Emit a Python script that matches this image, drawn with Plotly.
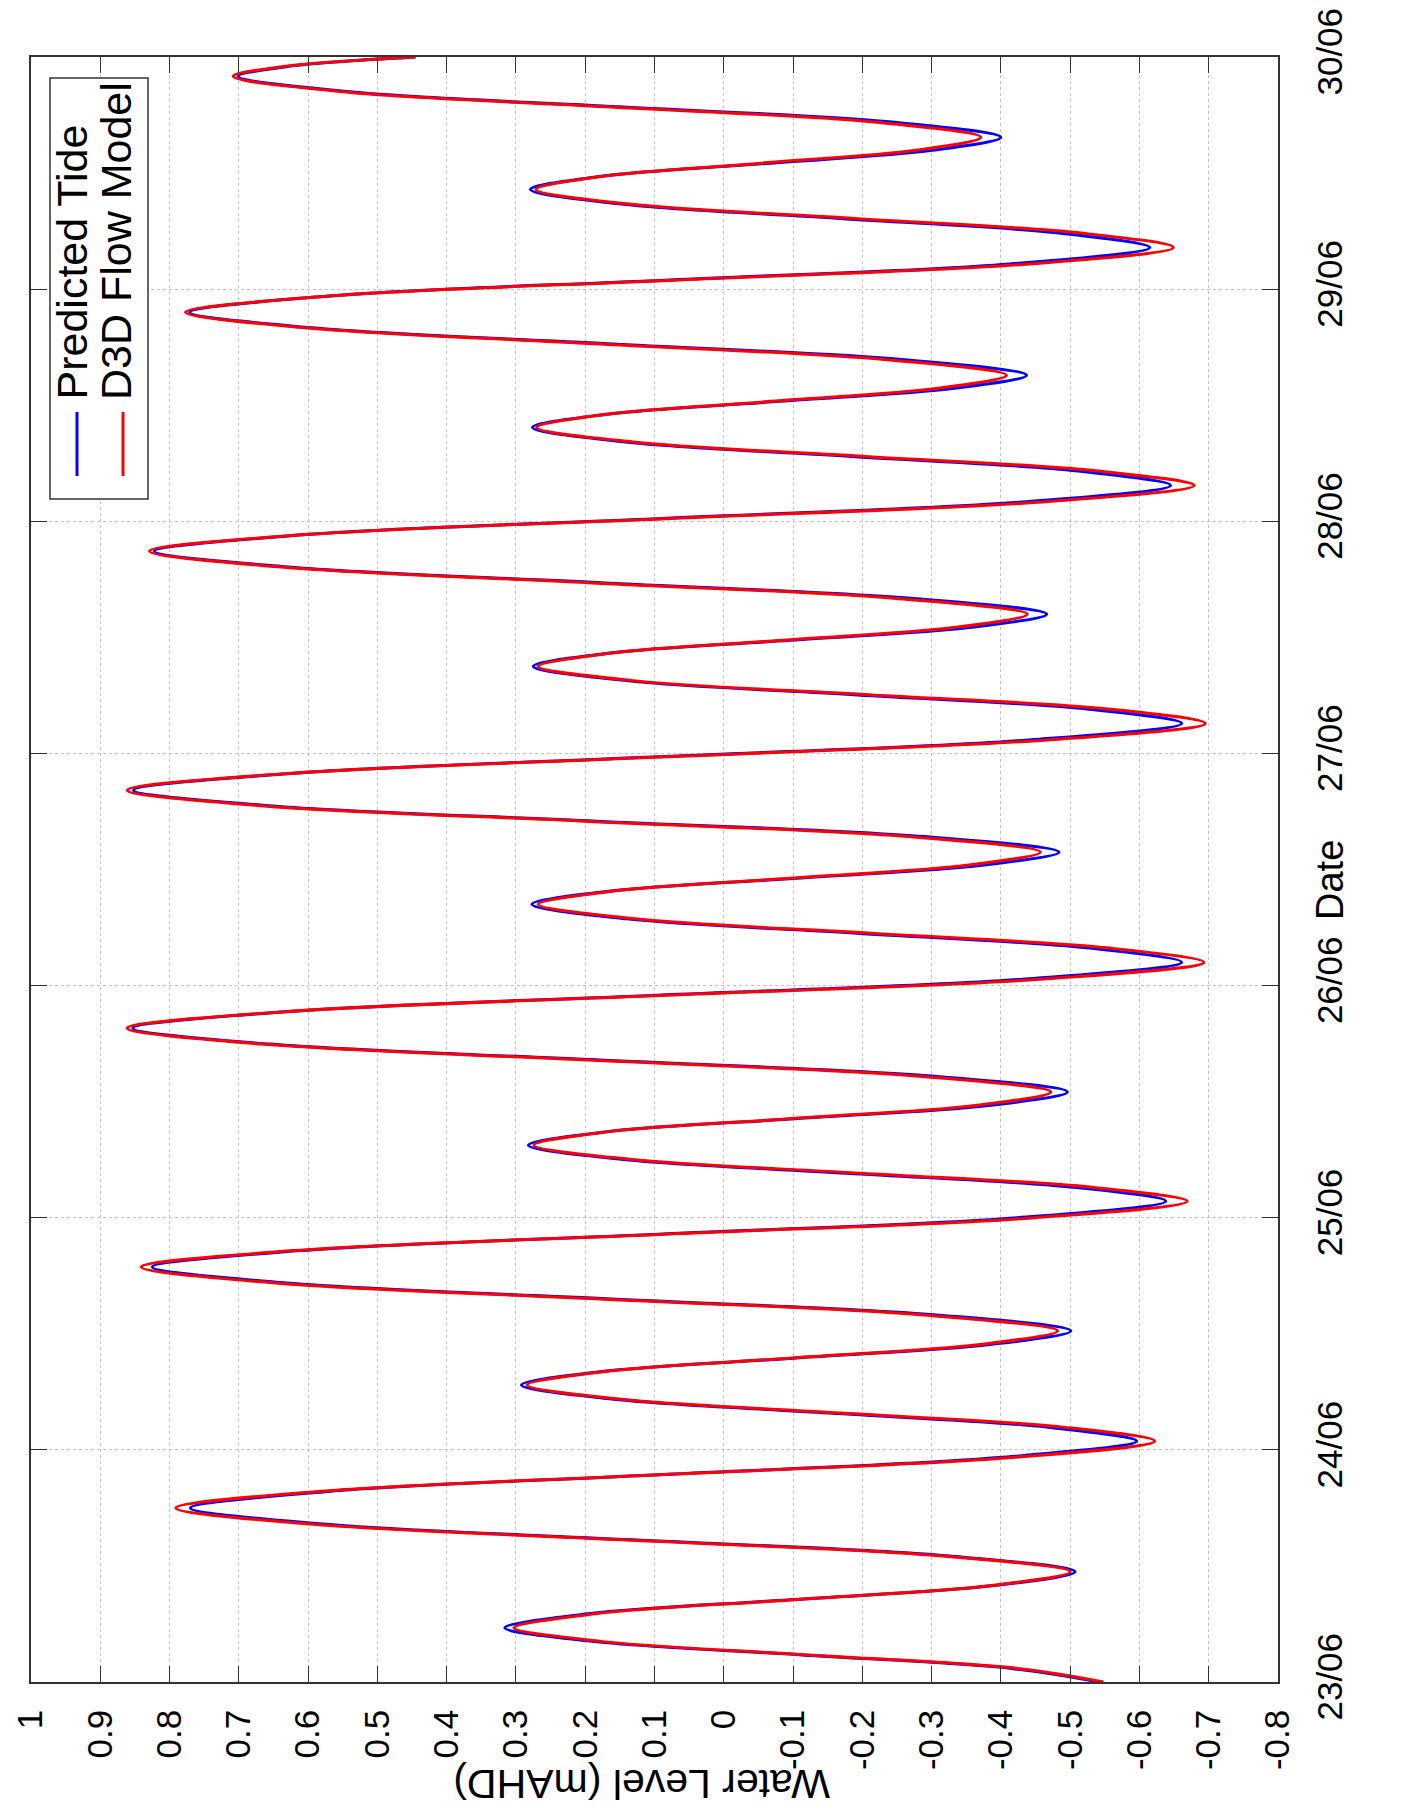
import plotly.graph_objects as go

# ---- data ----
hours = [
    0.0, 1.4, 2.8, 4.2, 5.6,
    7.05, 8.5, 9.95, 11.4,
    13.05, 14.7, 16.35, 18.0,
    19.7, 21.45, 23.2, 24.9,
    26.35, 27.8, 29.25, 30.7,
    32.1, 33.5, 34.9, 36.3,
    37.95, 39.6, 41.25, 42.9,
    44.6, 46.3, 48.0, 49.7,
    51.15, 52.6, 54.05, 55.5,
    56.9, 58.25, 59.6, 61.0,
    62.65, 64.3, 65.95, 67.6,
    69.3, 71.0, 72.7, 74.4,
    75.9, 77.4, 78.9, 80.4,
    81.75, 83.1, 84.45, 85.8,
    87.4, 89.0, 90.6, 92.2,
    93.9, 95.65, 97.4, 99.1,
    100.6, 102.05, 103.5, 105.0,
    106.35, 107.7, 109.05, 110.4,
    112.0, 113.65, 115.3, 116.9,
    118.6, 120.3, 122.0, 123.7,
    125.2, 126.7, 128.2, 129.7,
    131.05, 132.4, 133.75, 135.1,
    136.7, 138.35, 140.0, 141.6,
    143.3, 144.95, 146.6, 148.3,
    149.8, 151.3, 152.8, 154.3,
    155.65, 157.0, 158.35, 159.7,
    161.3, 162.85, 164.4, 166.0,
    167.0, 168.0,
]

predicted_tide = [
    -0.542, -0.415, -0.113, 0.190, 0.316,
    0.196, -0.096, -0.387, -0.507,
    -0.321, 0.132, 0.584, 0.770,
    0.571, 0.087, -0.397, -0.596,
    -0.466, -0.152, 0.162, 0.292,
    0.176, -0.105, -0.385, -0.501,
    -0.307, 0.162, 0.631, 0.825,
    0.611, 0.094, -0.424, -0.638,
    -0.504, -0.178, 0.148, 0.282,
    0.168, -0.107, -0.382, -0.496,
    -0.299, 0.179, 0.656, 0.853,
    0.632, 0.096, -0.440, -0.661,
    -0.524, -0.192, 0.140, 0.277,
    0.166, -0.104, -0.373, -0.484,
    -0.289, 0.184, 0.657, 0.852,
    0.631, 0.096, -0.440, -0.661,
    -0.524, -0.193, 0.138, 0.275,
    0.167, -0.096, -0.358, -0.466,
    -0.278, 0.178, 0.634, 0.822,
    0.608, 0.089, -0.431, -0.645,
    -0.511, -0.185, 0.142, 0.276,
    0.172, -0.081, -0.333, -0.437,
    -0.261, 0.167, 0.595, 0.771,
    0.569, 0.078, -0.413, -0.615,
    -0.484, -0.168, 0.148, 0.279,
    0.180, -0.061, -0.301, -0.400,
    -0.239, 0.151, 0.540, 0.701,
    0.632, 0.445,
]

d3d_flow_model = [
    -0.548, -0.424, -0.123, 0.178, 0.303,
    0.186, -0.099, -0.383, -0.500,
    -0.311, 0.146, 0.602, 0.791,
    0.585, 0.085, -0.416, -0.622,
    -0.490, -0.169, 0.152, 0.284,
    0.172, -0.099, -0.370, -0.482,
    -0.289, 0.180, 0.648, 0.841,
    0.621, 0.086, -0.449, -0.669,
    -0.531, -0.198, 0.136, 0.274,
    0.165, -0.099, -0.363, -0.472,
    -0.277, 0.195, 0.666, 0.861,
    0.634, 0.084, -0.466, -0.693,
    -0.553, -0.213, 0.128, 0.268,
    0.162, -0.095, -0.351, -0.457,
    -0.265, 0.202, 0.669, 0.861,
    0.634, 0.083, -0.468, -0.695,
    -0.554, -0.214, 0.127, 0.268,
    0.165, -0.085, -0.335, -0.438,
    -0.253, 0.196, 0.644, 0.829,
    0.609, 0.075, -0.459, -0.679,
    -0.540, -0.205, 0.131, 0.270,
    0.171, -0.069, -0.309, -0.408,
    -0.235, 0.185, 0.604, 0.777,
    0.569, 0.064, -0.441, -0.649,
    -0.515, -0.189, 0.137, 0.271,
    0.177, -0.050, -0.277, -0.371,
    -0.213, 0.169, 0.550, 0.708,
    0.638, 0.445,
]

level_ticks = [1.0, 0.9, 0.8, 0.7, 0.6, 0.5, 0.4, 0.3, 0.2, 0.1, 0.0,
               -0.1, -0.2, -0.3, -0.4, -0.5, -0.6, -0.7, -0.8]
level_labels = ["1", "0.9", "0.8", "0.7", "0.6", "0.5", "0.4", "0.3", "0.2", "0.1", "0",
                "-0.1", "-0.2", "-0.3", "-0.4", "-0.5", "-0.6", "-0.7", "-0.8"]
date_ticks = [0, 24, 48, 72, 96, 120, 144, 168]
date_labels = ["23/06", "24/06", "25/06", "26/06", "27/06", "28/06", "29/06", "30/06"]

series_names = ["Predicted Tide", "D3D Flow Model"]
series_colors = ["#0000ff", "#ff0000"]

# ---- layout geometry (pixels) ----
W, H = 1412, 1810
L, R, T, B = 23, 1270, 49, 1674
PW, PH = R - L, B - T


def px(x):
    return (x - L) / PW


def py(y):
    return (B - y) / PH


FONT = "Liberation Sans, Arial, Helvetica, sans-serif"

fig = go.Figure()
for name, vals, col in zip(series_names, [predicted_tide, d3d_flow_model], series_colors):
    fig.add_trace(go.Scatter(
        x=vals, y=hours, mode="lines", name=name,
        line=dict(color=col, width=3, shape="spline", smoothing=1.0),
        showlegend=False,
    ))

fig.update_layout(
    width=W, height=H,
    margin=dict(l=L, r=W - R, t=T, b=H - B, autoexpand=False),
    paper_bgcolor="white", plot_bgcolor="white",
    font=dict(family=FONT, color="black"),
)

axis_common = dict(
    showline=True, linecolor="#333333", linewidth=1.5, mirror="ticks",
    ticks="inside", ticklen=16, tickwidth=1.3, tickcolor="#333333",
    showgrid=True, gridcolor="#c4c4c4", griddash="dot", gridwidth=1,
    zeroline=False, tickmode="array", ticklabeloverflow="allow",
)

fig.update_xaxes(
    range=[1.0, -0.8], tickvals=level_ticks, ticktext=level_labels,
    tickangle=-90, tickfont=dict(family=FONT, size=35, color="black"),
    ticklabelstandoff=12, **axis_common,
)
fig.update_yaxes(
    range=[0, 168], tickvals=date_ticks, ticktext=date_labels, side="right",
    tickangle=-90, tickfont=dict(family=FONT, size=35, color="black"),
    ticklabelstandoff=20, **axis_common,
)

annotations = [
    dict(text="Water Level (mAHD)", x=px(634), y=py(1776), xref="paper", yref="paper",
         showarrow=False, textangle=180, font=dict(family=FONT, size=41, color="black"),
         xanchor="center", yanchor="middle"),
    dict(text="Date", x=px(1322), y=py(872), xref="paper", yref="paper",
         showarrow=False, textangle=-90, font=dict(family=FONT, size=38, color="black"),
         xanchor="center", yanchor="middle"),
]
legend_text_x = [63, 108]
for name, lx in zip(series_names, legend_text_x):
    annotations.append(dict(text=name, x=px(lx), y=py(394), xref="paper", yref="paper",
                            showarrow=False, textangle=-90,
                            font=dict(family=FONT, size=43, color="black"),
                            xanchor="center", yanchor="bottom"))

shapes = [
    dict(type="rect", xref="paper", yref="paper", x0=px(42), x1=px(140), y0=py(491), y1=py(70),
         line=dict(color="#333333", width=1.5), fillcolor="white", layer="above"),
    dict(type="line", xref="paper", yref="paper", x0=px(1409), x1=px(1409), y0=py(H), y1=py(0),
         line=dict(color="#222222", width=2)),
]
legend_line_x = [69, 115]
for col, lx in zip(series_colors, legend_line_x):
    shapes.append(dict(type="line", xref="paper", yref="paper", x0=px(lx), x1=px(lx),
                       y0=py(468), y1=py(404), line=dict(color=col, width=3), layer="above"))

fig.update_layout(annotations=annotations, shapes=shapes)

fig.write_html("out.html")
